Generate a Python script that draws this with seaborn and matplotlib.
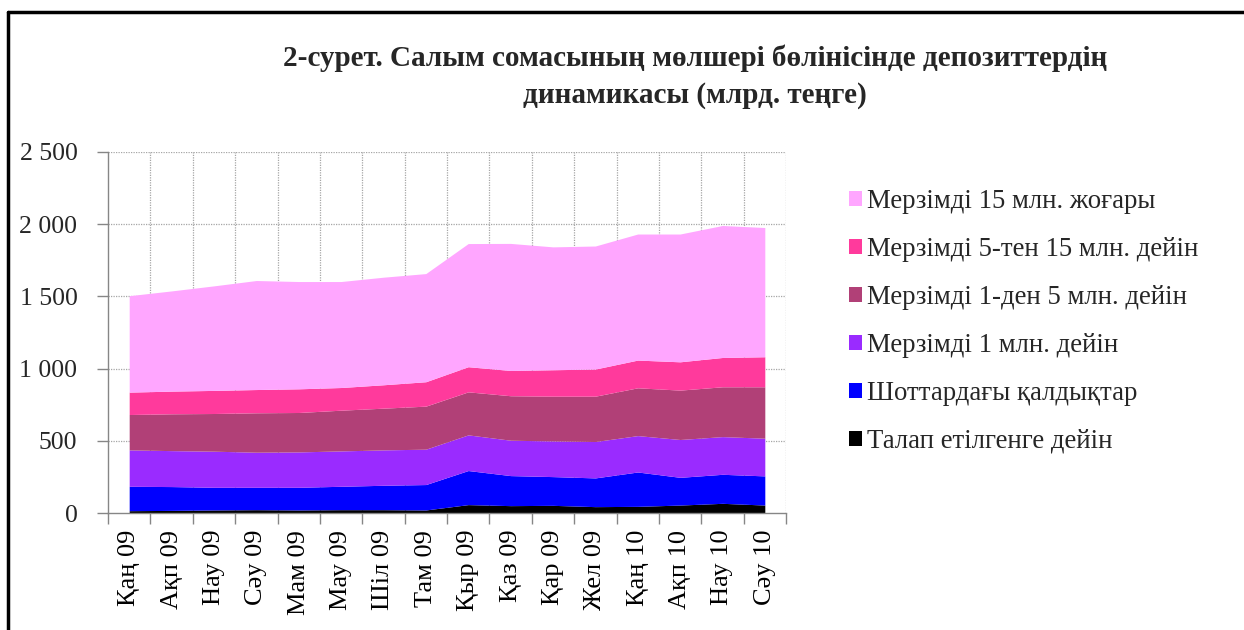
import numpy as np
import matplotlib
matplotlib.use("Agg")
import matplotlib.pyplot as plt
import seaborn as sns
from matplotlib.lines import Line2D
from matplotlib.ticker import FuncFormatter, FixedLocator

months = ["Қаң 09", "Ақп 09", "Нау 09", "Сәу 09", "Мам 09", "Мау 09", "Шіл 09", "Там 09",
          "Қыр 09", "Қаз 09", "Қар 09", "Жел 09", "Қаң 10", "Ақп 10", "Нау 10", "Сәу 10"]

demand = [16, 18, 21, 23, 21, 23, 23, 21, 58, 51, 53, 44, 46, 55, 67, 55]
accounts = [169, 165, 157, 155, 157, 162, 169, 176, 236, 208, 199, 199, 238, 192, 201, 202]
term_1 = [252, 249, 250, 243, 245, 245, 245, 245, 247, 245, 247, 252, 252, 262, 261, 261]
term_1_5 = [245, 255, 261, 273, 273, 282, 289, 298, 298, 308, 310, 314, 331, 342, 345, 356]
term_5_15 = [155, 157, 160, 161, 164, 157, 162, 169, 174, 175, 183, 188, 192, 196, 203, 208]
term_15 = [668, 694, 724, 755, 743, 734, 745, 749, 853, 880, 851, 852, 873, 885, 914, 895]

series_names = ["Талап етілгенге дейін", "Шоттардағы қалдықтар", "Мерзімді 1 млн. дейін",
                "Мерзімді 1-ден 5 млн. дейін", "Мерзімді 5-тен 15 млн. дейін",
                "Мерзімді 15 млн. жоғары"]
colors = ["#000000", "#0000FF", "#9A2BFF", "#B14077", "#FF3A9C", "#FFA6FF"]

sns.set_theme(style="white")
plt.rcParams["font.family"] = ["Liberation Serif", "DejaVu Serif"]

fig = plt.figure(figsize=(12.44, 6.30), dpi=100)
ax = fig.add_axes([108 / 1244, 1 - 513 / 630, (786 - 108) / 1244, (513 - 152) / 630])

x = np.arange(len(months))
polys = ax.stackplot(x, demand, accounts, term_1, term_1_5, term_5_15, term_15,
                     colors=colors, labels=series_names, linewidth=0)

ax.set_xlim(-0.5, len(months) - 0.5)
ax.set_ylim(0, 2500)

grid_c = "#A6A6A6"
ax.set_yticks([0, 500, 1000, 1500, 2000, 2500])
ax.yaxis.set_major_formatter(FuncFormatter(lambda v, p: f"{int(v):,}".replace(",", " ")))
for yv in [500, 1000, 1500, 2000, 2500]:
    ax.axhline(yv, color=grid_c, lw=0.9, ls=(0, (1, 1)), zorder=0)

ax.set_xticks(x)
ax.set_xticklabels(months, rotation=90)
ax.xaxis.set_minor_locator(FixedLocator(np.arange(-0.5, len(months), 1.0)))
for xv in np.arange(0.5, len(months), 1.0):
    ax.axvline(xv, color=grid_c, lw=0.9, ls=(0, (1, 1)), zorder=0)

ax.tick_params(axis="x", which="major", length=0, labelsize=19, pad=12, colors="black")
ax.tick_params(axis="x", which="minor", length=8, width=1, color="#868686", direction="out")
ax.tick_params(axis="y", which="major", length=8, width=1, color="#868686", direction="out",
               labelsize=18.5, pad=14)
ax.xaxis.set_tick_params(bottom=True, which="both")
ax.yaxis.set_tick_params(left=True)

for s in ["top", "right"]:
    ax.spines[s].set_visible(False)
for s in ["left", "bottom"]:
    ax.spines[s].set_color("#868686")
    ax.spines[s].set_linewidth(1)

handles = polys[::-1]
labels = series_names[::-1]
fig.legend(handles, labels, loc="upper left", bbox_to_anchor=(838 / 1244, 1 - 178 / 630),
           frameon=False, fontsize=19.3, handlelength=0.5, handleheight=0.5,
           handletextpad=0.2, labelspacing=0.86, borderaxespad=0)

fig.text(695 / 1244, 1 - 77 / 630,
         "2-сурет. Салым сомасының мөлшері бөлінісінде депозиттердің\nдинамикасы (млрд. теңге)",
         ha="center", va="center", fontsize=21, fontweight="bold", linespacing=1.45)

fig.add_artist(Line2D([8 / 1244, 1], [1 - 12 / 630, 1 - 12 / 630], color="black", lw=2.5))
fig.add_artist(Line2D([8 / 1244, 8 / 1244], [0, 1 - 12 / 630], color="black", lw=2.5))

fig.savefig("out.png", dpi=100)
